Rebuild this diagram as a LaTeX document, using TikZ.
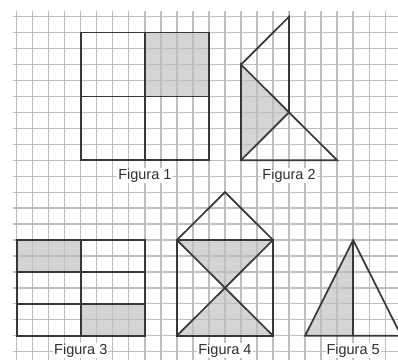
\documentclass[tikz,border=0pt]{standalone}
\usepackage{fontspec}
\setmainfont{Liberation Sans}
\definecolor{gridgray}{RGB}{190,190,190}
\definecolor{figdark}{RGB}{55,55,55}
\definecolor{shadegray}{RGB}{212,212,214}
\definecolor{textdark}{RGB}{45,45,45}
\begin{document}
\begin{tikzpicture}[x=16.02pt,y=-15.95pt,
  gridline/.style={draw=gridgray,line width=1.3pt},
  figline/.style={draw=figdark,line width=1.7pt,line join=miter},
  shadefill/.style={fill=shadegray},
  lbl/.style={anchor=base,fill=white,inner sep=1pt,text=textdark,font=\fontsize{14.5}{16}\selectfont}]
\clip (-1.0424,-1.047) rectangle (23.801,21.461);
\fill[white] (-1.0424,-1.047) rectangle (23.801,21.461);
% shading
\fill[shadefill] (8,1) rectangle (12,5);
\fill[shadefill] (14,3) -- (17,6) -- (14,9) -- cycle;
\fill[shadefill] (0,14) rectangle (4,16);
\fill[shadefill] (4,18) rectangle (8,20);
\fill[shadefill] (10,14) -- (16,14) -- (13,17) -- cycle;
\fill[shadefill] (10,20) -- (16,20) -- (13,17) -- cycle;
\fill[shadefill] (18,20) -- (21,14) -- (21,20) -- cycle;
% grid
\foreach \i in {0,...,23} \draw[gridline] (\i,-0.33) -- (\i,21.6);
\foreach \j in {0,...,21} \draw[gridline] (-0.25,\j) -- (23.9,\j);
% Figura 1
\draw[figline] (4,1) rectangle (12,9);
\draw[figline] (8,1) -- (8,9);
\draw[figline] (4,5) -- (12,5);
% Figura 2
\draw[figline] (14,3) -- (17,0) -- (17,6);
\draw[figline] (14,3) -- (14,9) -- (20,9) -- cycle;
\draw[figline] (14,9) -- (17,6);
% Figura 3
\draw[figline] (0,14) rectangle (8,20);
\draw[figline] (4,14) -- (4,20);
\draw[figline] (0,16) -- (8,16);
\draw[figline] (0,18) -- (8,18);
% Figura 4
\draw[figline] (10,14) rectangle (16,20);
\draw[figline] (10,14) -- (13,11) -- (16,14);
\draw[figline] (10,14) -- (16,20);
\draw[figline] (16,14) -- (10,20);
% Figura 5
\draw[figline] (18,20) -- (21,14) -- (24,20) -- cycle;
\draw[figline] (21,14) -- (21,20);
% labels
\node[lbl] (l1) at (8,10.18) {Figura 1};
\node[lbl] (l2) at (17,10.18) {Figura 2};
\node[lbl] (l3) at (4,21.15) {Figura 3};
\node[lbl] (l4) at (13,21.15) {Figura 4};
\node[lbl] (l5) at (21,21.15) {Figura 5};
\end{tikzpicture}
\end{document}
